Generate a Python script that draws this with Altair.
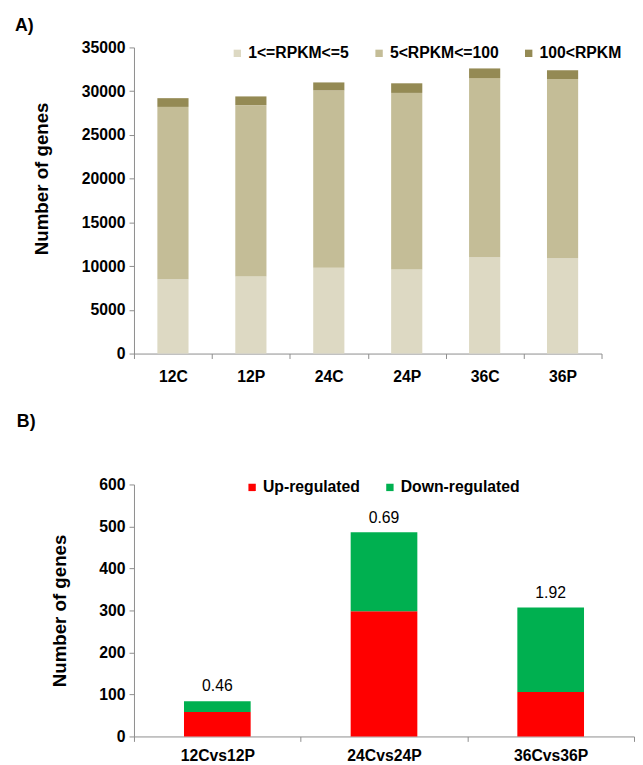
import altair as alt
import pandas as pd

# ---------- Panel A data ----------
samples = ["12C", "12P", "24C", "24P", "36C", "36P"]
series_a = ["1<=RPKM<=5", "5<RPKM<=100", "100<RPKM"]
low = [8500, 8800, 9800, 9600, 11000, 10900]
mid = [19700, 19600, 20300, 20200, 20500, 20500]
high = [1000, 1000, 900, 1100, 1100, 1000]
colors_a = ["#ddd9c3", "#c4bd97", "#948a54"]

# ---------- Panel B data ----------
comparisons = ["12Cvs12P", "24Cvs24P", "36Cvs36P"]
series_b = ["Up-regulated", "Down-regulated"]
up = [58, 298, 106]
down = [26, 188, 201]
ratio_labels = ["0.46", "0.69", "1.92"]
colors_b = ["#ff0000", "#00b050"]

FONT = "Liberation Sans"

rows_a = []
for i, s in enumerate(samples):
    for k, (name, vals) in enumerate(zip(series_a, [low, mid, high])):
        rows_a.append({"sample": s, "series": name, "value": vals[i], "order": k})
df_a = pd.DataFrame(rows_a)

rows_b = []
for i, c in enumerate(comparisons):
    for k, (name, vals) in enumerate(zip(series_b, [up, down])):
        rows_b.append({"comp": c, "series": name, "value": vals[i], "order": k})
df_b = pd.DataFrame(rows_b)
df_t = pd.DataFrame({"comp": comparisons,
                     "total": [u + d for u, d in zip(up, down)],
                     "label": ratio_labels})

axis_common = dict(
    labelFont=FONT, labelFontSize=16, labelFontWeight="bold", labelColor="black",
    titleFont=FONT, titleFontWeight="bold", titleColor="black",
    domainColor="#8c8c8c", tickColor="#8c8c8c", tickSize=5, grid=False,
)

legend_common = dict(
    orient="none", direction="horizontal", title=None,
    labelFont=FONT, labelFontSize=16, labelFontWeight="bold", labelColor="black",
    symbolType="square", symbolSize=56, symbolStrokeWidth=0, labelOffset=3,
    padding=0,
)

chart_a = alt.Chart(df_a).mark_bar(width=alt.RelativeBandSize(0.4)).encode(
    x=alt.X("sample:N", sort=samples,
            scale=alt.Scale(paddingInner=0, paddingOuter=0),
            axis=alt.Axis(title=None, labelAngle=0, tickBand="extent",
                          labelPadding=10, **axis_common)),
    y=alt.Y("value:Q", stack="zero",
            scale=alt.Scale(domain=[0, 35000], nice=False),
            axis=alt.Axis(title="Number of genes", values=list(range(0, 35001, 5000)),
                          format="d", titleFontSize=19, titlePadding=30, titleY=133,
                          labelPadding=4, **axis_common)),
    color=alt.Color("series:N", sort=series_a,
                    scale=alt.Scale(domain=series_a, range=colors_a),
                    legend=alt.Legend(legendX=97, legendY=-2, columnPadding=22,
                                      **legend_common)),
    order=alt.Order("order:Q"),
).properties(
    width=475, height=311,
    title=alt.TitleParams("A)", anchor="start", frame="group", dx=-121,
                          font=FONT, fontSize=18, fontWeight="bold", offset=5),
)

bars_b = alt.Chart(df_b).mark_bar(width=alt.RelativeBandSize(0.4)).encode(
    x=alt.X("comp:N", sort=comparisons,
            scale=alt.Scale(paddingInner=0, paddingOuter=0),
            axis=alt.Axis(title=None, labelAngle=0, tickBand="extent",
                          labelPadding=6, **axis_common)),
    y=alt.Y("value:Q", stack="zero",
            scale=alt.Scale(domain=[0, 600], nice=False),
            axis=alt.Axis(title="Number of genes", values=list(range(0, 601, 100)),
                          format="d", titleFontSize=19, titlePadding=30,
                          labelPadding=4, **axis_common)),
    color=alt.Color("series:N", sort=series_b,
                    scale=alt.Scale(domain=series_b, range=colors_b),
                    legend=alt.Legend(legendX=112, legendY=-5, columnPadding=22,
                                      **legend_common)),
    order=alt.Order("order:Q"),
)

text_b = alt.Chart(df_t).mark_text(
    font=FONT, fontSize=16, color="black", baseline="alphabetic", dy=-10
).encode(
    x=alt.X("comp:N", sort=comparisons),
    y=alt.Y("total:Q"),
    text="label:N",
)

chart_b = alt.layer(bars_b, text_b).properties(
    width=508, height=256,
    title=alt.TitleParams("B)", anchor="start", frame="group", dx=-119,
                          font=FONT, fontSize=18, fontWeight="bold", offset=46),
).resolve_scale(color="independent")

chart = alt.vconcat(chart_a, chart_b, spacing=30).resolve_scale(
    color="independent", x="independent", y="independent"
).properties(
    padding={"left": 7, "top": 3, "right": 0, "bottom": 0},
).configure_view(stroke=None)

chart.save("out.html", embed_options={"renderer": "svg", "actions": False})
